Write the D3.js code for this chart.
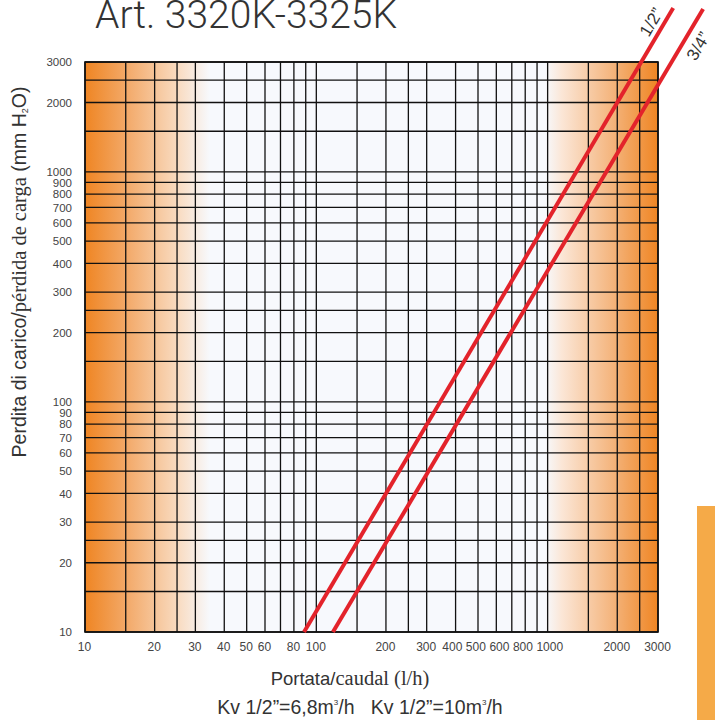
<!DOCTYPE html>
<html>
<head>
<meta charset="utf-8">
<script src="https://cdn.jsdelivr.net/npm/d3@7/dist/d3.min.js"></script>
<style>
  html, body { margin: 0; padding: 0; background: #fff; }
  svg { display: block; }
</style>
</head>
<body>
<svg id="chart" width="715" height="720"></svg>
<script>
// ---------- data ----------
const title = "Art. 3320K-3325K";
const domain = [10, 3000];
const gridValues = [10,15,20,25,30,40,50,60,70,80,90,100,150,200,250,300,400,500,600,700,800,900,1000,1500,2000,2500,3000];
const xTickValues = [10,20,30,40,50,60,80,100,200,300,400,500,600,800,1000,2000,3000];
const yTickValues = [10,20,30,40,50,60,70,80,90,100,200,300,400,500,600,700,800,900,1000,2000,3000];
const seriesNames = ["1/2\u201D", "3/4\u201D"];
// [flow l/h, pressure drop mm H2O]
const halfInch = [[88.5, 10], [3490, 5150]];
const threeQuarter = [[118, 10], [4700, 5100]];

// ---------- layout ----------
const svg = d3.select("#chart");
const L = 85, R = 658, T = 62, B = 632;
const x = d3.scaleLog().domain(domain).range([L, R]);
const y = d3.scaleLog().domain(domain).range([B, T]);
const sans = "'Liberation Sans', Arial, sans-serif";
const serif = "'Liberation Serif', 'Times New Roman', serif";

const defs = svg.append("defs");
const gl = defs.append("linearGradient").attr("id", "gl").attr("gradientUnits", "userSpaceOnUse")
  .attr("x1", L).attr("x2", 210).attr("y1", 0).attr("y2", 0);
gl.append("stop").attr("offset", "0").attr("stop-color", "#ef8523");
gl.append("stop").attr("offset", "0.35").attr("stop-color", "#f3ab6c");
gl.append("stop").attr("offset", "0.75").attr("stop-color", "#f9dcc2");
gl.append("stop").attr("offset", "1").attr("stop-color", "#f7f9fd");
const gr = defs.append("linearGradient").attr("id", "gr").attr("gradientUnits", "userSpaceOnUse")
  .attr("x1", 545).attr("x2", R).attr("y1", 0).attr("y2", 0);
gr.append("stop").attr("offset", "0").attr("stop-color", "#f7f9fd");
gr.append("stop").attr("offset", "0.15").attr("stop-color", "#fbe6d6");
gr.append("stop").attr("offset", "0.6").attr("stop-color", "#f4b47c");
gr.append("stop").attr("offset", "1").attr("stop-color", "#ef8523");

// background
svg.append("rect").attr("x", L).attr("y", T).attr("width", R - L).attr("height", B - T).attr("fill", "#f7f9fd");
svg.append("rect").attr("x", L).attr("y", T).attr("width", 210 - L).attr("height", B - T).attr("fill", "url(#gl)");
svg.append("rect").attr("x", 545).attr("y", T).attr("width", R - 545).attr("height", B - T).attr("fill", "url(#gr)");

// grid
const g = svg.append("g");
g.selectAll("line.vx").data(gridValues).join("line")
  .attr("x1", d => x(d)).attr("x2", d => x(d)).attr("y1", T).attr("y2", B)
  .attr("stroke", "#111").attr("stroke-width", 1.3);
g.selectAll("line.hy").data(gridValues).join("line")
  .attr("class", "hy")
  .attr("y1", d => y(d)).attr("y2", d => y(d)).attr("x1", L).attr("x2", R)
  .attr("stroke", "#111").attr("stroke-width", 1.3);
svg.append("rect").attr("x", L).attr("y", T).attr("width", R - L).attr("height", B - T)
  .attr("fill", "none").attr("stroke", "#111").attr("stroke-width", 1.6);

// axes (labels only)
const xAxis = svg.append("g").attr("transform", `translate(0,${B})`)
  .call(d3.axisBottom(x).tickValues(xTickValues).tickFormat(d3.format("d")).tickSize(0).tickPadding(10));
const yAxis = svg.append("g").attr("transform", `translate(${L},0)`)
  .call(d3.axisLeft(y).tickValues(yTickValues).tickFormat(d3.format("d")).tickSize(0).tickPadding(13));
[xAxis, yAxis].forEach(a => {
  a.select(".domain").remove();
  a.selectAll("text").attr("font-family", sans).attr("fill", "#444");
});
xAxis.selectAll("text").attr("font-size", 12);
yAxis.selectAll("text").attr("font-size", 11.5);

// spread crowded x labels apart (simple relaxation)
(function spread() {
  const ticks = xAxis.selectAll(".tick").nodes();
  const items = ticks.map(n => {
    const t = d3.select(n).select("text");
    const w = t.node().getComputedTextLength();
    return { t, base: x(d3.select(n).datum()), pos: x(d3.select(n).datum()), w };
  });
  const gap = 3.5;
  for (let it = 0; it < 60; it++) {
    for (let i = 0; i < items.length - 1; i++) {
      const a = items[i], b = items[i + 1];
      const need = a.w / 2 + b.w / 2 + gap - (b.pos - a.pos);
      if (need > 0) { a.pos -= need / 2; b.pos += need / 2; }
    }
  }
  items.forEach(d => d.t.attr("dx", d.pos - d.base - 1));
})();

// lines
const line = d3.line().x(d => x(d[0])).y(d => y(d[1]));
[halfInch, threeQuarter].forEach(s => {
  svg.append("path").datum(s).attr("d", line)
    .attr("fill", "none").attr("stroke", "#e3232b").attr("stroke-width", 4);
});

// line labels
const ang = Math.atan2(y(halfInch[1][1]) - y(halfInch[0][1]), x(halfInch[1][0]) - x(halfInch[0][0])) * 180 / Math.PI;
[[seriesNames[0], 651, 22], [seriesNames[1], 698, 46]].forEach(([t, cx, cy]) => {
  svg.append("text").attr("transform", `translate(${cx},${cy}) rotate(${ang})`)
    .attr("text-anchor", "middle").attr("dy", "0.35em")
    .attr("font-family", sans).attr("font-size", 17).attr("fill", "#333").text(t);
});

// title
svg.append("text").attr("x", 95).attr("y", 28)
  .attr("font-family", "Roboto, 'Liberation Sans', sans-serif").attr("font-weight", 300)
  .attr("font-size", 39).attr("fill", "#333").text(title);

// y label
const yl = svg.append("text").attr("transform", "translate(26,272) rotate(-90)")
  .attr("text-anchor", "middle").attr("font-size", 19.5).attr("fill", "#333");
yl.append("tspan").attr("font-family", sans).text("Perdita di carico/");
yl.append("tspan").attr("font-family", serif).attr("font-size", 20.5).text("pérdida de carga");
yl.append("tspan").attr("font-family", sans).text(" (mm H");
yl.append("tspan").attr("font-family", sans).attr("font-size", 9).attr("dy", 2).text("2");
yl.append("tspan").attr("font-family", sans).attr("dy", -2).text("O)");

// x label
const xl = svg.append("text").attr("x", 350).attr("y", 685)
  .attr("text-anchor", "middle").attr("font-size", 18.5).attr("fill", "#333");
xl.append("tspan").attr("font-family", sans).text("Portata/");
xl.append("tspan").attr("font-family", serif).attr("font-size", 20.5).text("caudal (l/h)");

// Kv note
const kv = svg.append("text").attr("x", 360).attr("y", 714)
  .attr("text-anchor", "middle").attr("font-family", sans).attr("font-size", 19.5).attr("fill", "#333");
kv.append("tspan").text("Kv 1/2\u201D=6,8m");
kv.append("tspan").attr("font-size", 8).attr("dy", -9).text("3");
kv.append("tspan").attr("dy", 9).text("/h\u00A0\u00A0\u00A0Kv 1/2\u201D=10m");
kv.append("tspan").attr("font-size", 8).attr("dy", -9).text("3");
kv.append("tspan").attr("dy", 9).text("/h");

// orange side tab
svg.append("rect").attr("x", 697).attr("y", 506).attr("width", 18).attr("height", 214).attr("fill", "#f5aa48");
</script>
</body>
</html>
